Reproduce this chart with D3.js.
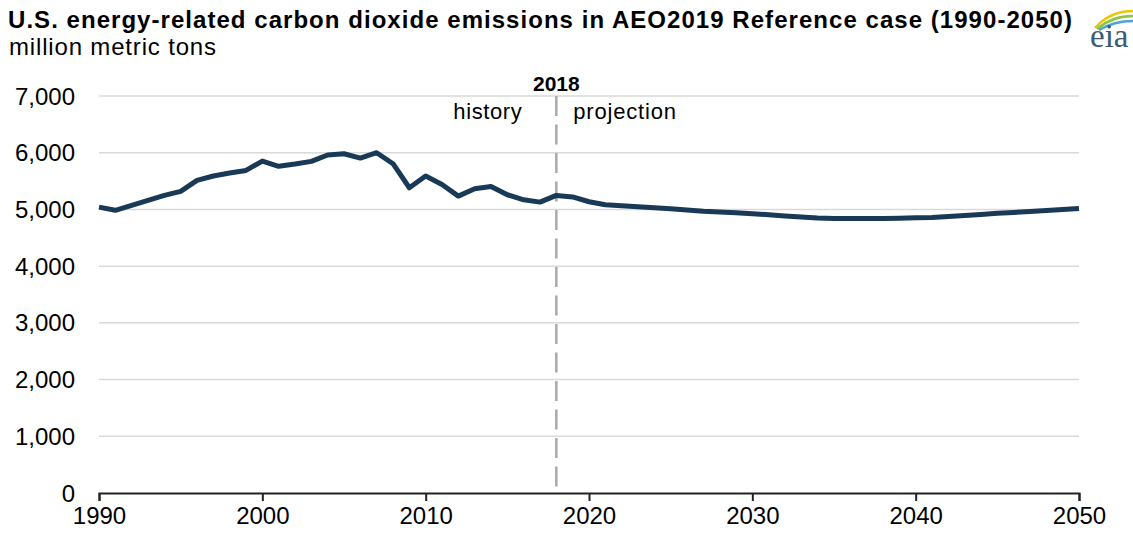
<!DOCTYPE html>
<html><head><meta charset="utf-8">
<script src="https://cdn.jsdelivr.net/npm/d3@7"></script>
<style>
html,body{margin:0;padding:0;background:#fff;}
svg{display:block;font-family:"Liberation Sans",Arial,sans-serif;}
</style></head>
<body><svg id="chart" width="1133" height="537"></svg>
<script>
const years = d3.range(1990, 2051);
const emissions = [
 5040, 4985, 5070, 5160, 5247, 5318, 5512, 5590, 5641, 5688,
 5853, 5760, 5800, 5847, 5959, 5982, 5906, 6000, 5806, 5382,
 5588, 5441, 5235, 5365, 5406, 5259, 5170, 5129, 5247, 5220,
 5135, 5082, 5065, 5047, 5029, 5012, 4990, 4968, 4955, 4942,
 4925, 4906, 4884, 4866, 4850, 4842, 4840, 4840, 4841, 4845,
 4853, 4858, 4874, 4892, 4910, 4932, 4946, 4964, 4982, 4998, 5018
];
const yTicks = [0, 1000, 2000, 3000, 4000, 5000, 6000, 7000];
const xTicks = [1990, 2000, 2010, 2020, 2030, 2040, 2050];
const dividerYear = 2018;
const titleText = "U.S. energy-related carbon dioxide emissions in AEO2019 Reference case (1990-2050)";
const subtitleText = "million metric tons";

const svg = d3.select("#chart");
const x = d3.scaleLinear().domain([1990, 2050]).range([99, 1079]);
const y = d3.scaleLinear().domain([0, 7000]).range([493, 96]);

// gridlines
svg.append("g").selectAll("line").data(yTicks.filter(d => d > 0)).join("line")
  .attr("x1", x(1990)).attr("x2", x(2050))
  .attr("y1", d => y(d)).attr("y2", d => y(d))
  .attr("stroke", "#d9d9d9").attr("stroke-width", 1.5);

// y labels
svg.append("g").selectAll("text").data(yTicks).join("text")
  .attr("x", 75).attr("y", d => y(d)).attr("dy", "0.36em")
  .attr("text-anchor", "end").attr("font-size", 24).attr("fill", "#000")
  .text(d => d3.format(",")(d));

// x axis
const xAxis = d3.axisBottom(x).tickValues(xTicks).tickFormat(d3.format("d")).tickSize(8).tickPadding(6);
const gx = svg.append("g").attr("transform", `translate(0,${y(0)})`).call(xAxis);
gx.select(".domain").attr("stroke", "#222").attr("stroke-width", 2);
gx.selectAll(".tick line").attr("stroke", "#222").attr("stroke-width", 2);
gx.selectAll(".tick text").attr("font-size", 24).attr("fill", "#000")
  .attr("font-family", "Liberation Sans, Arial, sans-serif");

// divider
svg.append("line")
  .attr("x1", x(dividerYear)).attr("x2", x(dividerYear))
  .attr("y1", 96).attr("y2", y(0))
  .attr("stroke", "#aaaaaa").attr("stroke-width", 2.5).attr("stroke-dasharray", "20,8.5");

svg.append("text").attr("x", x(dividerYear)).attr("y", 91)
  .attr("text-anchor", "middle").attr("font-size", 21).attr("font-weight", "bold").text(String(dividerYear));
svg.append("text").attr("x", x(dividerYear) - 34).attr("y", 119)
  .attr("text-anchor", "end").attr("font-size", 22).attr("letter-spacing", 0.6).text("history");
svg.append("text").attr("x", x(dividerYear) + 17).attr("y", 119)
  .attr("text-anchor", "start").attr("font-size", 22).attr("letter-spacing", 0.8).text("projection");

// line
const line = d3.line().x((d, i) => x(years[i])).y(d => y(d));
svg.append("path").datum(emissions)
  .attr("d", line).attr("fill", "none")
  .attr("stroke", "#193a56").attr("stroke-width", 5).attr("stroke-linejoin", "round");

// titles
svg.append("text").attr("x", 8).attr("y", 28).attr("font-size", 24).attr("font-weight", "bold")
  .attr("fill", "#000").attr("textLength", 1064).attr("lengthAdjust", "spacing").text(titleText);
svg.append("text").attr("x", 9).attr("y", 55).attr("font-size", 24).attr("fill", "#000")
  .attr("textLength", 207).attr("lengthAdjust", "spacing").text(subtitleText);

// eia logo
const logo = svg.append("g");
logo.append("path").attr("d", "M1095,28 Q1110,11 1133,11").attr("fill", "none").attr("stroke", "#f2c300").attr("stroke-width", 2.4);
logo.append("path").attr("d", "M1097,29 Q1112,16 1133,16").attr("fill", "none").attr("stroke", "#8cc63e").attr("stroke-width", 2.4);
logo.append("path").attr("d", "M1099,30 Q1114,21 1133,21").attr("fill", "none").attr("stroke", "#4da3d8").attr("stroke-width", 2.4);
logo.append("text").attr("x", 1090).attr("y", 47).attr("font-family", "Liberation Serif, DejaVu Serif, serif")
  .attr("font-size", 33).attr("fill", "#3b5a78").text("eia");
</script></body></html>
